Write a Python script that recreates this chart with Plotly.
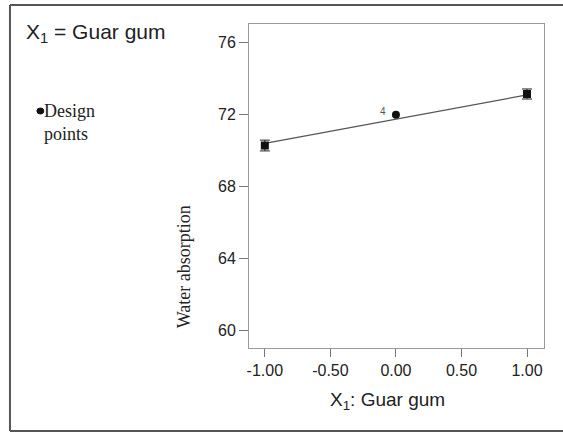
import plotly.graph_objects as go

W, H = 563, 434

# Data
design_x = [-1.0, 1.0]
design_y = [70.28, 73.15]
design_err = [0.3, 0.28]
center_x = [0.0]
center_y = [72.0]
center_label = ["4"]
fit_x = [-1.0, 1.0]
fit_y = [70.4, 73.1]
x_ticks = [-1.0, -0.5, 0.0, 0.5, 1.0]
x_ticklabels = ["-1.00", "-0.50", "0.00", "0.50", "1.00"]
y_ticks = [60, 64, 68, 72, 76]

# pixel helpers for paper coords (margins are zero, paper == whole figure)
def px(x):
    return x / W

def py(y):
    return 1 - y / H

fig = go.Figure()

fig.add_trace(go.Scatter(
    x=fit_x, y=fit_y, mode="lines",
    line=dict(color="#555555", width=1.2),
    showlegend=False, hoverinfo="skip"))

fig.add_trace(go.Scatter(
    x=design_x, y=design_y, mode="markers",
    marker=dict(symbol="square", size=8, color="#111111"),
    error_y=dict(type="data", array=design_err, visible=True,
                 color="#222222", thickness=1, width=5),
    showlegend=False))

fig.add_trace(go.Scatter(
    x=center_x, y=center_y, mode="markers",
    marker=dict(symbol="circle", size=8, color="#111111"),
    showlegend=False))

fig.add_annotation(x=center_x[0] - 0.1, y=center_y[0] + 0.2, text=center_label[0],
                   showarrow=False, xref="x", yref="y",
                   font=dict(family="Liberation Sans, Arial", size=10, color="#555555"))

fig.update_layout(
    width=W, height=H,
    margin=dict(l=0, r=0, t=0, b=0),
    paper_bgcolor="white", plot_bgcolor="white",
    xaxis=dict(domain=[px(248), px(544)], range=[-1.12, 1.13],
               tickvals=x_ticks, ticktext=x_ticklabels,
               ticks="outside", ticklen=8, tickcolor="#777777", tickwidth=1,
               showline=True, mirror=True, linecolor="#999999", linewidth=1,
               showgrid=False, zeroline=False,
               tickfont=dict(family="Liberation Sans, Arial", size=16, color="#222222")),
    yaxis=dict(domain=[py(348), py(24)], range=[59.0, 77.05],
               tickvals=y_ticks,
               ticks="outside", ticklen=9, tickcolor="#777777", tickwidth=1,
               showline=True, mirror=True, linecolor="#999999", linewidth=1,
               showgrid=False, zeroline=False,
               tickfont=dict(family="Liberation Sans, Arial", size=16, color="#222222")),
)

# Axis titles
fig.add_annotation(xref="paper", yref="paper", x=px(387), y=py(401), xanchor="center", yanchor="middle",
                   text="X<sub>1</sub>: Guar gum", showarrow=False,
                   font=dict(family="Liberation Sans, Arial", size=19, color="#222222"))
fig.add_annotation(xref="paper", yref="paper", x=px(183), y=py(267), xanchor="center", yanchor="middle",
                   text="Water absorption", showarrow=False, textangle=-90,
                   font=dict(family="Liberation Serif, Times New Roman", size=18, color="#222222"))

# Outer frame (top, left, bottom)
frame = dict(color="#555555", width=2)
fig.add_shape(type="line", xref="paper", yref="paper", x0=px(8), x1=1.0, y0=py(5), y1=py(5), line=frame)
fig.add_shape(type="line", xref="paper", yref="paper", x0=px(8), x1=px(8), y0=py(5), y1=py(431), line=frame)
fig.add_shape(type="line", xref="paper", yref="paper", x0=px(8), x1=1.0, y0=py(431), y1=py(431), line=frame)

# Left-side texts
fig.add_annotation(xref="paper", yref="paper", x=px(22), y=py(33), xanchor="left", yanchor="middle",
                   text="X<sub>1</sub> = Guar gum", showarrow=False,
                   font=dict(family="Liberation Sans, Arial", size=21, color="#222222"))
fig.add_annotation(xref="paper", yref="paper", x=px(40), y=py(122), xanchor="left", yanchor="middle",
                   text="Design<br>points", showarrow=False, align="left",
                   font=dict(family="Liberation Serif, Times New Roman", size=18, color="#222222"))
fig.add_shape(type="circle", xref="paper", yref="paper",
              x0=px(35), x1=px(42), y0=py(108), y1=py(114),
              fillcolor="#111111", line=dict(color="#111111", width=1))

fig.write_html("out.html", config={"displayModeBar": False},
               post_script="document.body.style.margin='0';document.body.style.overflow='hidden';")
